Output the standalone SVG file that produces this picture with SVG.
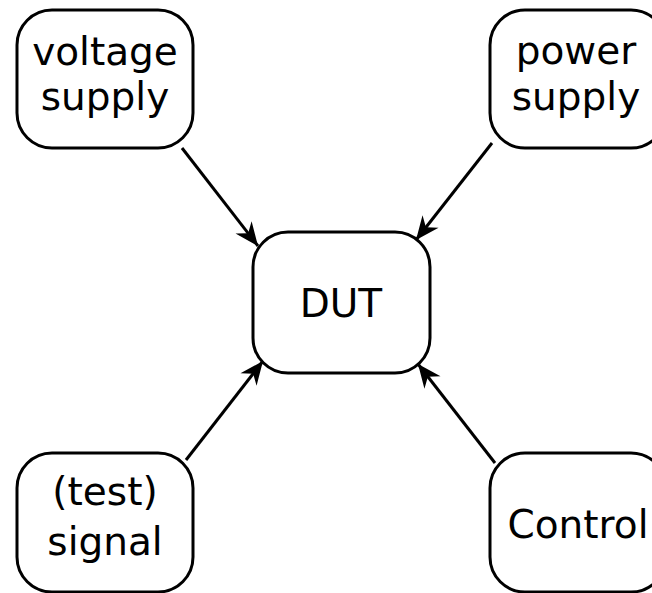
<svg xmlns="http://www.w3.org/2000/svg" width="652" height="593" viewBox="0 0 652 593">
<style>
.box{fill:#fff;stroke:#000;stroke-width:3}
.lbl{font-family:"DejaVu Sans",Verdana,sans-serif;font-size:39px;fill:#000;text-anchor:middle}
.conn{stroke:#000;stroke-width:3;fill:none;marker-end:url(#ah)}
</style>
<defs>
<marker id="ah" markerUnits="userSpaceOnUse" markerWidth="30" markerHeight="30" viewBox="-26 -13 28 26" refX="0" refY="0" orient="auto">
<path d="M0,0 L-22,-9.5 L-15,0 L-22,9.5 Z" fill="#000"/>
</marker>
</defs>
<rect width="652" height="593" fill="#fff"/>
<g id="connectors">
<line class="conn" x1="182" y1="148" x2="258" y2="246"/>
<line class="conn" x1="492" y1="143" x2="416" y2="240"/>
<line class="conn" x1="186" y1="460" x2="263" y2="361"/>
<line class="conn" x1="495" y1="463" x2="418" y2="364"/>
</g>
<g id="voltage">
<rect class="box" x="17" y="10" width="176" height="138" rx="35"/>
<text class="lbl" x="105" y="65">voltage</text>
<text class="lbl" x="105" y="110">supply</text>
</g>
<g id="power">
<rect class="box" x="490" y="10" width="176" height="138" rx="35"/>
<text class="lbl" x="576" y="64">power</text>
<text class="lbl" x="576" y="110">supply</text>
</g>
<g id="dut">
<rect class="box" x="253" y="232" width="177" height="141" rx="35"/>
<text class="lbl" x="341" y="317">DUT</text>
</g>
<g id="signal">
<rect class="box" x="17" y="453" width="176" height="139" rx="35"/>
<text class="lbl" x="105" y="505">(test)</text>
<text class="lbl" x="105" y="555">signal</text>
</g>
<g id="control">
<rect class="box" x="490" y="453" width="176" height="139" rx="35"/>
<text class="lbl" x="578" y="538">Control</text>
</g>
</svg>
